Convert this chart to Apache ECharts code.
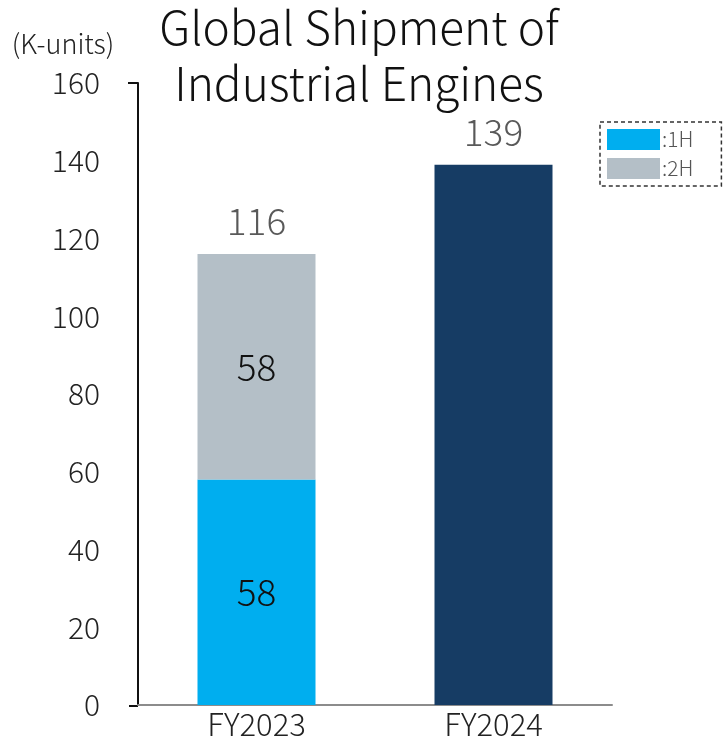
<!DOCTYPE html>
<html style='height: 100%'>
<head>
    <meta charset='utf-8'>
</head>
<body style='height: 100%; margin: 0; background: #fff'>
    <div id='container' style='height: 100%'></div>
    <script type='text/javascript' src='https://cdn.jsdelivr.net/npm/echarts@6/dist/echarts.min.js'></script>
    <script type="text/javascript">

var categories = ['FY2023', 'FY2024'];
var firstHalf = [58, null];
var secondHalf = [58, null];
var fy2024 = [null, 139];
var totals = [116, 139];
var yTicks = [0, 20, 40, 60, 80, 100, 120, 140, 160];

var font = '"Noto Sans CJK JP", "Noto Sans", sans-serif';
var dom = document.getElementById("container");
var myChart = echarts.init(dom);

var option = {
    backgroundColor: '#fff',
    animation: false,
    title: {
        text: 'Global Shipment of\nIndustrial Engines',
        left: 354,
        top: -5,
        textAlign: 'center',
        textStyle: { fontFamily: font, fontSize: 46, fontWeight: 300, color: '#111', lineHeight: 56 }
    },
    legend: {
        orient: 'vertical',
        left: 600,
        top: 122,
        data: ['1H', '2H'],
        formatter: function (n) { return ':' + n; },
        itemWidth: 53,
        itemHeight: 21,
        itemGap: 8,
        padding: [7, 28, 7, 7],
        borderColor: '#333',
        borderWidth: 1.5,
        borderType: [4, 3],
        icon: 'rect',
        textStyle: { fontFamily: font, fontSize: 21, fontWeight: 300, color: '#555', padding: [0, 0, 0, -3] }
    },
    grid: { left: 138, right: 113, top: 83, bottom: 34 },
    xAxis: {
        type: 'category',
        data: categories,
        axisLine: { lineStyle: { color: '#8c8c8c', width: 2 } },
        axisTick: { show: false },
        axisLabel: { fontFamily: font, fontSize: 31, fontWeight: 300, color: '#222', margin: 4 }
    },
    yAxis: {
        type: 'value',
        min: yTicks[0],
        max: yTicks[yTicks.length - 1],
        interval: 20,
        name: '(K-units)',
        nameLocation: 'end',
        nameGap: 26,
        nameTextStyle: { fontFamily: font, fontSize: 27, fontWeight: 300, color: '#222', align: 'center', padding: [0, 0, 0, -150] },
        axisLine: { show: true, lineStyle: { color: '#111', width: 2 } },
        axisTick: { show: false },
        splitLine: { show: false },
        axisLabel: { fontFamily: font, fontSize: 30, fontWeight: 300, color: '#222', margin: 38 }
    },
    graphic: [
        { type: 'line', shape: { x1: 128, y1: 83, x2: 138, y2: 83 }, style: { stroke: '#111', lineWidth: 2 } },
        { type: 'line', shape: { x1: 129, y1: 706, x2: 138, y2: 706 }, style: { stroke: '#111', lineWidth: 2 } }
    ],
    series: [
        {
            name: '1H', type: 'bar', stack: 'a', barWidth: 118,
            data: firstHalf,
            itemStyle: { color: '#00AEEF' },
            label: { show: true, position: 'inside', fontFamily: font, fontSize: 37, fontWeight: 300, color: '#111' }
        },
        {
            name: '2H', type: 'bar', stack: 'a', barWidth: 118,
            data: secondHalf,
            itemStyle: { color: '#B4BFC7' },
            label: { show: true, position: 'inside', fontFamily: font, fontSize: 37, fontWeight: 300, color: '#111' }
        },
        {
            name: 'FY2024', type: 'bar', stack: 'a', barWidth: 118,
            data: fy2024,
            itemStyle: { color: '#163C64' }
        },
        {
            name: 'Total', type: 'line',
            data: totals,
            symbol: 'circle',
            symbolSize: 1,
            itemStyle: { color: 'rgba(0,0,0,0)' },
            lineStyle: { opacity: 0 },
            label: { show: true, position: 'top', distance: 14, fontFamily: font, fontSize: 37, fontWeight: 300, color: '#595959' }
        }
    ]
};

myChart.setOption(option, true);
       </script>
   </body>
</html>
